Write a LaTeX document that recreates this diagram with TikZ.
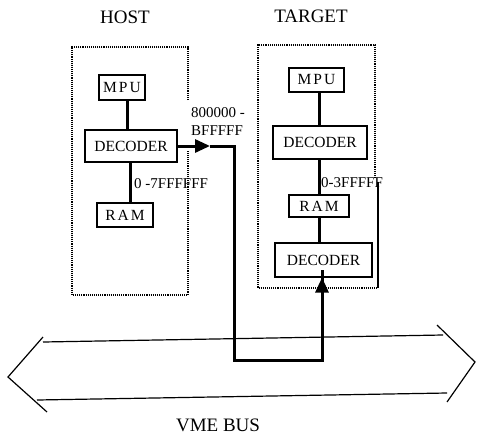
\documentclass[tikz,border=0pt]{standalone}
\usepackage{fontspec}
\setmainfont{Liberation Serif}
\usetikzlibrary{arrows.meta}
\begin{document}
\begin{tikzpicture}[x=1pt,y=-1pt,
  unit/.style={draw,line width=1.1pt,inner sep=0pt,font=\fontsize{15.5}{17}\selectfont},
  frame/.style={densely dotted,line width=1.1pt},
  bus/.style={line width=3pt},
  tip/.style={-{Triangle[length=15pt,width=13pt]}},
  lbl/.style={font=\fontsize{15}{17}\selectfont,inner sep=0pt,anchor=west},
  ttl/.style={font=\fontsize{19}{21}\selectfont,inner sep=0pt},
  vme/.style={line width=1.2pt}]
\useasboundingbox (0,0) rectangle (478,441);
% titles
\node[ttl] (hostT) at (125,17) {HOST};
\node[ttl] (targT) at (311,16) {TARGET};
\node[ttl] (vmeT) at (218,425) {VME BUS};
% frames
\draw[frame] (188,100) -- (188,47) -- (72,47) -- (72,295) -- (188,295) -- (188,150);
\draw[frame] (375,178) -- (375,45) -- (258,45) -- (258,288) -- (378,288);
\draw[line width=1.2pt] (378,182) -- (378,288);
% host units
\node[unit,minimum width=46pt,minimum height=25pt] (mpuH) at (122,87.5) {M\hspace{2pt}P\hspace{2pt}U};
\node[unit,minimum width=92pt,minimum height=32pt] (decH) at (131,146) {DECODER};
\node[unit,minimum width=56pt,minimum height=24pt] (ramH) at (125,215) {R\hspace{2pt}A\hspace{2pt}M};
\coordinate (hx1) at (127,0);
\coordinate (hx2) at (130,0);
\draw[bus] (mpuH.south -| hx1) -- (decH.north -| hx1);
\draw[bus] (decH.south -| hx2) -- (ramH.north -| hx2);
% target units
\node[unit,minimum width=55pt,minimum height=24pt] (mpuT) at (316.5,80) {M\hspace{2pt}P\hspace{2pt}U};
\node[unit,minimum width=94pt,minimum height=33pt] (dec1T) at (320,142.5) {DECODER};
\node[unit,minimum width=60pt,minimum height=22pt] (ramT) at (319,206) {R\hspace{2pt}A\hspace{2pt}M};
\node[unit,minimum width=97pt,minimum height=34pt] (dec2T) at (323.5,260) {DECODER};
\coordinate (tx) at (319,0);
\draw[bus] (mpuT.south -| tx) -- (dec1T.north -| tx);
\draw[bus] (dec1T.south -| tx) -- (ramT.north -| tx);
\draw[bus] (ramT.south -| tx) -- (dec2T.north -| tx);
% connector host decoder -> VME -> target decoder
\coordinate (mid) at (210,146);
\coordinate (c1) at (234,146);
\coordinate (c2) at (234,360);
\coordinate (c3) at (322,360);
\coordinate (tx2) at (322,0);
\draw[bus,tip] (decH.east) -- (mid);
\draw[bus,line join=miter] (mid) -- (c1) -- (c2) -- (c3) -- ([yshift=8pt]dec2T.south -| tx2);
\draw[bus,tip] (c3) -- (dec2T.south -| tx2);
% labels
\node[lbl] (l1) at (191,113) {800000 -};
\node[lbl] (l2) at (191,131) {BFFFFF};
\node[lbl] (l3) at (134,184) {0 -7FFFFFF};
\node[lbl] (l4) at (321,183) {0-3FFFFF};
% VME bus double arrow
\draw[vme] (43,342) -- (443,335);
\draw[vme] (37,400) -- (447,393);
\draw[vme] (43,337) -- (8,377) -- (47,412);
\draw[vme] (437,325) -- (475,362) -- (447,402);
\end{tikzpicture}
\end{document}
